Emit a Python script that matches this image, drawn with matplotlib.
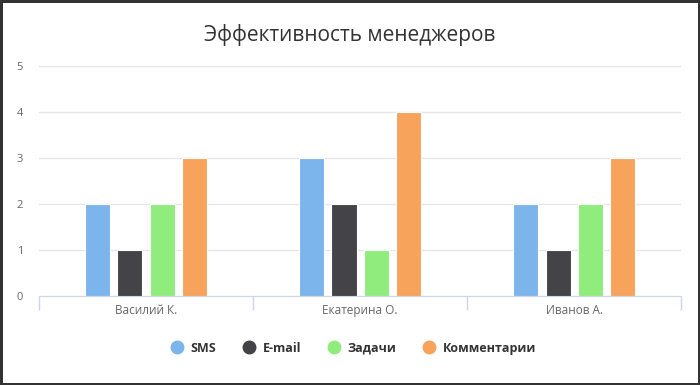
import numpy as np
import matplotlib
matplotlib.use("Agg")
import matplotlib.pyplot as plt
from matplotlib.lines import Line2D

managers = ["Василий К.", "Екатерина О.", "Иванов А."]
series = ["SMS", "E-mail", "Задачи", "Комментарии"]
sms = [2, 3, 2]
email = [1, 2, 1]
tasks = [2, 1, 2]
comments = [3, 4, 3]
colors = ["#7cb5ec", "#434348", "#90ed7d", "#f7a35c"]

plt.rcParams['font.family'] = ['Open Sans', 'DejaVu Sans']

fig = plt.figure(figsize=(7, 3.85), dpi=100)
fig.patch.set_edgecolor("#333333")
fig.patch.set_linewidth(2.5)
ax = fig.add_axes([0.0557, 0.2312, 0.9173, 0.5974])

x = np.arange(len(managers))
width = 0.117
pitch = 0.15
for i, (vals, c) in enumerate(zip([sms, email, tasks, comments], colors)):
    ax.bar(x + (i - 1.5) * pitch, vals, width, color=c, edgecolor="white",
           linewidth=0.8, zorder=3)

ax.set_xlim(-0.5, 2.5)
ax.set_ylim(0, 5)
ax.set_yticks(range(6))
ax.yaxis.grid(True, color="#e6e6e6", linewidth=1, zorder=0)
for s in ["top", "right", "left"]:
    ax.spines[s].set_visible(False)
ax.spines["bottom"].set_color("#ccd6eb")
ax.tick_params(axis="y", length=0, labelsize=8, labelcolor="#666666", pad=16)
ax.set_xticks(x)
ax.set_xticklabels(managers, fontsize=8.5, color="#666666")
ax.tick_params(axis="x", length=0, pad=6)
ax.set_xticks([-0.5, 0.5, 1.5, 2.5], minor=True)
ax.tick_params(axis="x", which="minor", length=10, color="#ccd6eb", width=1)
for lbl in ax.get_yticklabels():
    lbl.set_horizontalalignment("left")

fig.text(0.5, 0.908, "Эффективность менеджеров", ha="center", va="center",
         fontsize=15, color="#333333")

handles = [Line2D([], [], marker="o", linestyle="", markersize=9,
                  markerfacecolor=c, markeredgecolor=c) for c in colors]
leg = fig.legend(handles, series, loc="center", bbox_to_anchor=(0.5, 0.096),
                 ncol=4, frameon=False, handletextpad=0.1, columnspacing=1.6,
                 prop={"weight": "bold", "size": 9})
for t in leg.get_texts():
    t.set_color("#333333")

fig.savefig("out.png", dpi=100, edgecolor=fig.get_edgecolor())
